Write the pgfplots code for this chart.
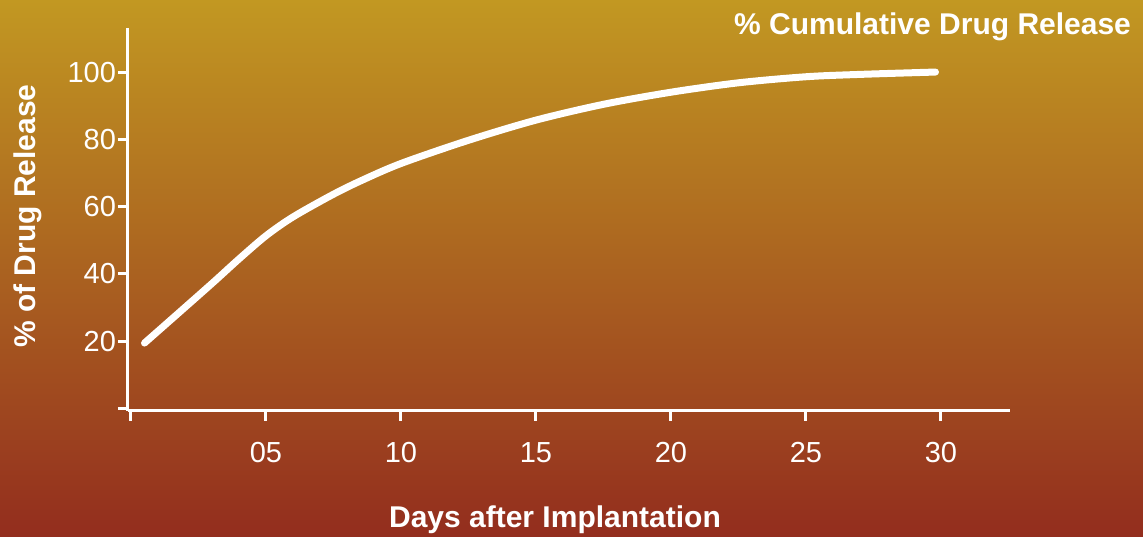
\documentclass[border=0pt]{standalone}
\usepackage{fontspec}
\setmainfont{Liberation Sans}
\usepackage{pgfplots}
\pgfplotsset{compat=1.18}
\definecolor{bgtop}{RGB}{194,152,34}
\definecolor{bgmid}{RGB}{167,101,35}
\definecolor{bgbot}{RGB}{147,45,30}
\begin{document}
\begin{tikzpicture}
\shade[top color=bgtop, middle color=bgmid, bottom color=bgbot] (-64pt,-63pt) rectangle (507.5pt,205.5pt);
\begin{axis}[
  scale only axis,
  width=441pt, height=191.5pt,
  xmin=-0.11, xmax=32.56,
  ymin=-0.8, ymax=113.1,
  axis x line=bottom, axis y line=left,
  axis line style={-, white, line width=1.5pt},
  every tick/.style={white, line width=1.5pt},
  tick align=outside,
  major tick length=5pt,
  xtick={0,5,10,15,20,25,30},
  xticklabels={,05,10,15,20,25,30},
  ytick={0,20,40,60,80,100},
  yticklabels={,20,40,60,80,100},
  /pgf/number format/assume math mode=true,
  tick label style={white, font=\fontsize{14.5pt}{16pt}\selectfont},
  xticklabel style={yshift=-7pt},
  yticklabel style={xshift=2.5pt},
  clip=false,
]
\addplot[white, line width=3.5pt, line cap=round, smooth, tension=0.5] coordinates {
  (0.5,19.4) (2.9,36.4) (4,44.4) (5,51.3) (6,56.9) (7.44,63.4) (8.5,67.6)
  (10,72.8) (12.5,79.7) (15,85.7) (17.5,90.4) (20,94.0) (22.5,96.8)
  (25,98.6) (27,99.3) (29.8,100)
};
\end{axis}
\node[anchor=east, text=white, font=\bfseries\fontsize{15pt}{17pt}\selectfont] at (505pt,192pt) {\% Cumulative Drug Release};
\node[rotate=90, text=white, font=\bfseries\fontsize{15pt}{17pt}\selectfont] at (-50pt,97.5pt) {\% of Drug Release};
\node[text=white, font=\bfseries\fontsize{15pt}{17pt}\selectfont] at (213.5pt,-54.5pt) {Days after Implantation};
\end{tikzpicture}
\end{document}
